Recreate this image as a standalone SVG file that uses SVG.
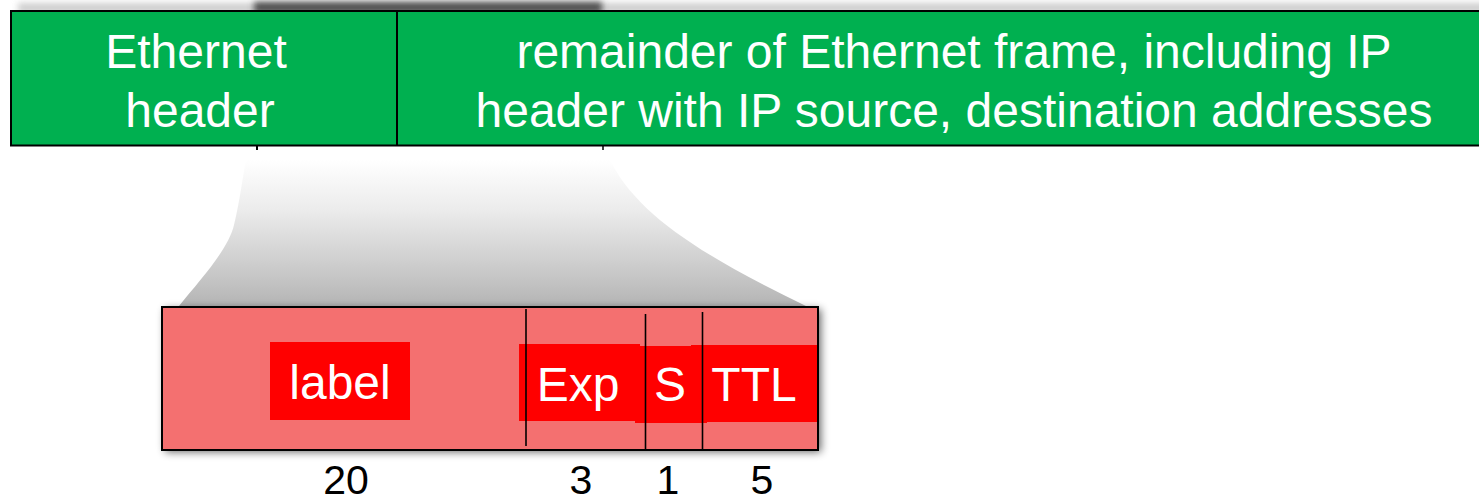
<svg xmlns="http://www.w3.org/2000/svg" width="1479" height="503" viewBox="0 0 1479 503">
  <style>
    .t { font-family: "Liberation Sans", Arial, sans-serif; font-size: 48px; text-anchor: middle; }
    .n { font-family: "Liberation Sans", Arial, sans-serif; font-size: 41px; text-anchor: middle; fill: #000; }
    .w { fill: #ffffff; }
    .div { stroke: #000; stroke-width: 1.6; }
    .lab { fill: #ff0000; }
  </style>
  <defs>
    <linearGradient id="funnel" x1="0" y1="0" x2="0" y2="1">
      <stop offset="0" stop-color="#ffffff"/>
      <stop offset="0.35" stop-color="#ebebeb"/>
      <stop offset="0.8" stop-color="#c6c6c6"/>
      <stop offset="1" stop-color="#b4b4b4"/>
    </linearGradient>
    <filter id="blur3" x="-20%" y="-200%" width="140%" height="500%">
      <feGaussianBlur stdDeviation="3"/>
    </filter>
    <filter id="shadow" x="-10%" y="-20%" width="120%" height="140%">
      <feGaussianBlur in="SourceAlpha" stdDeviation="4"/>
      <feOffset dx="3" dy="2" result="b"/>
      <feComponentTransfer><feFuncA type="linear" slope="0.6"/></feComponentTransfer>
      <feMerge><feMergeNode/><feMergeNode in="SourceGraphic"/></feMerge>
    </filter>
  </defs>

  <!-- top shadows -->
  <g id="top-shadow">
    <rect x="18" y="3" width="1500" height="10" fill="#cfcfcf" filter="url(#blur3)"/>
    <rect x="254" y="2" width="348" height="11" fill="#505050" filter="url(#blur3)"/>
  </g>

  <!-- funnel -->
  <g id="funnel-shape">
    <path d="M246,160 L610,160 C635,210 690,250 806,306 L179,306 C200,280 228,250 234,225 C240,200 243,175 246,160 Z" fill="url(#funnel)"/>
  </g>

  <!-- green frame -->
  <g id="ethernet-frame">
    <rect x="11" y="11" width="1490" height="134.5" fill="#00b050" stroke="#000" stroke-width="2"/>
    <line x1="257" y1="146" x2="257" y2="150" stroke="#000" stroke-width="2"/>
    <line x1="603" y1="146" x2="603" y2="150" stroke="#000" stroke-width="1.5"/>
  </g>
  <g id="eth-header">
    <text class="t w" x="196" y="68">Ethernet</text>
    <text class="t w" x="200" y="127">header</text>
  </g>
  <g id="remainder">
    <text class="t w" x="954" y="68">remainder of Ethernet frame, including IP</text>
    <text class="t w" x="954" y="127">header with IP source, destination addresses</text>
  </g>
  <g id="connectors">
    <line x1="397" y1="11" x2="397" y2="146" stroke="#000" stroke-width="2"/>
  </g>

  <!-- MPLS header -->
  <g id="mpls-header">
    <rect x="162" y="307" width="656" height="143" fill="#f47070" filter="url(#shadow)"/>
  </g>
  <g id="label-field">
    <rect class="lab" x="270" y="342" width="140" height="78"/>
    <text class="t w" x="340" y="399">label</text>
  </g>
  <g id="exp-field">
    <rect class="lab" x="519" y="344" width="121" height="77"/>
    <text class="t w" x="578" y="401">Exp</text>
  </g>
  <g id="s-field">
    <rect class="lab" x="635" y="346" width="72" height="77"/>
    <text class="t w" x="670" y="401">S</text>
  </g>
  <g id="ttl-field">
    <rect class="lab" x="691" y="345" width="126" height="77"/>
    <text class="t w" x="754" y="401">TTL</text>
  </g>
  <g id="dividers">
    <line class="div" x1="526" y1="309" x2="526" y2="446"/>
    <line class="div" x1="645.5" y1="314" x2="645.5" y2="450"/>
    <line class="div" x1="702.5" y1="312" x2="702.5" y2="450"/>
  </g>
  <rect x="162" y="307" width="656" height="143" fill="none" stroke="#000" stroke-width="2"/>

  <g id="bit-widths">
    <text class="n" x="346" y="494">20</text>
    <text class="n" x="581" y="494">3</text>
    <text class="n" x="668" y="494">1</text>
    <text class="n" x="762" y="494">5</text>
  </g>
</svg>
